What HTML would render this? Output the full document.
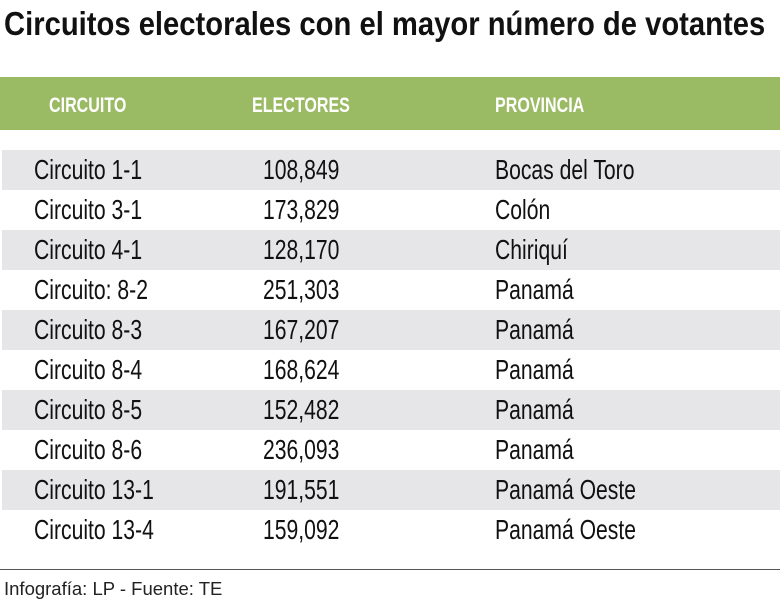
<!DOCTYPE html>
<html><head><meta charset="utf-8"><style>
body{margin:0;width:780px;height:601px;background:#fff;position:relative;overflow:hidden;font-family:"Liberation Sans",sans-serif;color:#111}
.s{position:absolute;white-space:nowrap;transform-origin:0 0}
#title{left:4px;top:5px;font-weight:bold;font-size:33px;transform:scaleX(0.885);color:#111}
#hdr{position:absolute;left:0;top:77px;width:780px;height:53px;background:#9bba64}
.h{font-weight:bold;font-size:21px;color:#fff;top:94px;transform:scaleX(0.765)}
.row{position:absolute;left:2px;width:778px;height:40px}
.row.sh{background:#e6e6e8}
.c{font-size:28px;transform:scaleX(0.755);line-height:40px}
#rule{position:absolute;left:0;top:569px;width:780px;height:1px;background:#555}
#foot{left:4px;top:578px;font-size:18.5px;color:#222}
</style></head><body>
<div class="s" id="title">Circuitos electorales con el mayor número de votantes</div>
<div id="hdr"></div>
<div class="s h" style="left:49px">CIRCUITO</div>
<div class="s h" style="left:252px">ELECTORES</div>
<div class="s h" style="left:495px">PROVINCIA</div>
<div id="rows"></div>
<div id="rule"></div>
<div class="s" id="foot">Infografía: LP - Fuente: TE</div>
<script>
const circuitos=["Circuito 1-1","Circuito 3-1","Circuito 4-1","Circuito: 8-2","Circuito 8-3","Circuito 8-4","Circuito 8-5","Circuito 8-6","Circuito 13-1","Circuito 13-4"];
const electores=["108,849","173,829","128,170","251,303","167,207","168,624","152,482","236,093","191,551","159,092"];
const provincias=["Bocas del Toro","Colón","Chiriquí","Panamá","Panamá","Panamá","Panamá","Panamá","Panamá Oeste","Panamá Oeste"];
const wrap=document.getElementById('rows');
circuitos.forEach((c,i)=>{
  const top=150+i*40;
  const r=document.createElement('div');
  r.className='row'+(i%2===0?' sh':'');
  r.style.top=top+'px';
  
  
  wrap.appendChild(r);
  [[c,34,'cell-circuito'],[electores[i],263,'cell-electores'],[provincias[i],495,'cell-provincia']].forEach(([t,x,n])=>{
    const d=document.createElement('div');
    d.className='s c';
    d.style.left=x+'px';d.style.top=top+'px';
    d.textContent=t;
    
    
    wrap.appendChild(d);
  });
});
</script>
</body></html>
